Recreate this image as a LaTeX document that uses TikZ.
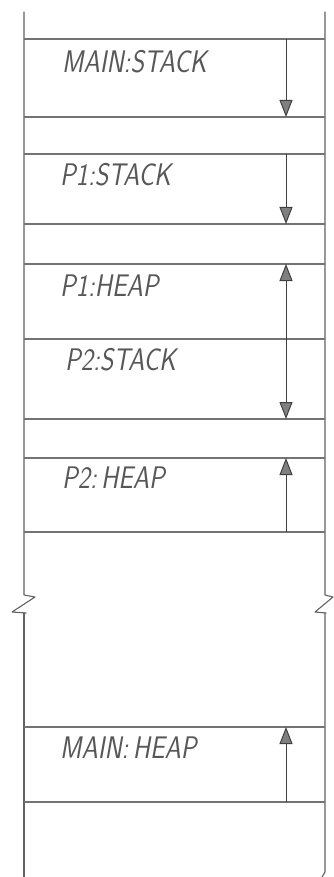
\documentclass[tikz,border=0pt]{standalone}
\usetikzlibrary{arrows.meta}
\begin{document}
\begin{tikzpicture}[x=1pt,y=-1pt,
  pencil/.style={draw=black!62, line width=1.1pt, line cap=round, line join=round},
  divider/.style={draw=black!55, line width=1.1pt},
  head/.tip={Triangle[length=17pt,width=13pt,fill=black!50]},
  growth/.style={draw=black!75, line width=1pt, -head},
  growthboth/.style={draw=black!75, line width=1pt, head-head},
  region/.style={anchor=west, inner sep=0pt, text=black!66, yscale=1.2, transform shape,
    font=\sffamily\itshape\fontsize{26}{26}\selectfont}]
\useasboundingbox (0,0) rectangle (333,877);

% outer walls of the address space, with break marks
\draw[pencil] (24,12) -- (24,595) -- (35,597) -- (12,612) -- (26,613);
\draw[pencil] (24,613) -- (24,877);
\draw[pencil] (325,12) -- (325,595) -- (333,597) -- (315,612) -- (326,613);
\draw[pencil] (325,613) -- (325,872) -- (322,877);

% region boundaries
\foreach \y/\n in {39/a,117/b,154/c,224/d,264/e,339/f,419/g,458/h,532/i,727/j,802/k}{
  \draw[divider] (24,\y) -- (325,\y);
  \coordinate (\n) at (286,\y);
}

% region labels
\node[region] (mainstack) at (62,62)  {MAIN:STACK};
\node[region] (p1stack)   at (60,175) {P1:STACK};
\node[region] (p1heap)    at (60,286) {P1:HEAP};
\node[region] (p2stack)   at (65,360) {P2:STACK};
\node[region] (p2heap)    at (62,478) {P2:\,HEAP};
\node[region] (mainheap)  at (60,748) {MAIN:\,HEAP};

% growth directions
\draw[growth] (a) -- (b);
\draw[growth] (c) -- (d);
\draw[growthboth] (e) -- (g);
\draw[growth] (i) -- (h);
\draw[growth] (k) -- (j);
\end{tikzpicture}
\end{document}
